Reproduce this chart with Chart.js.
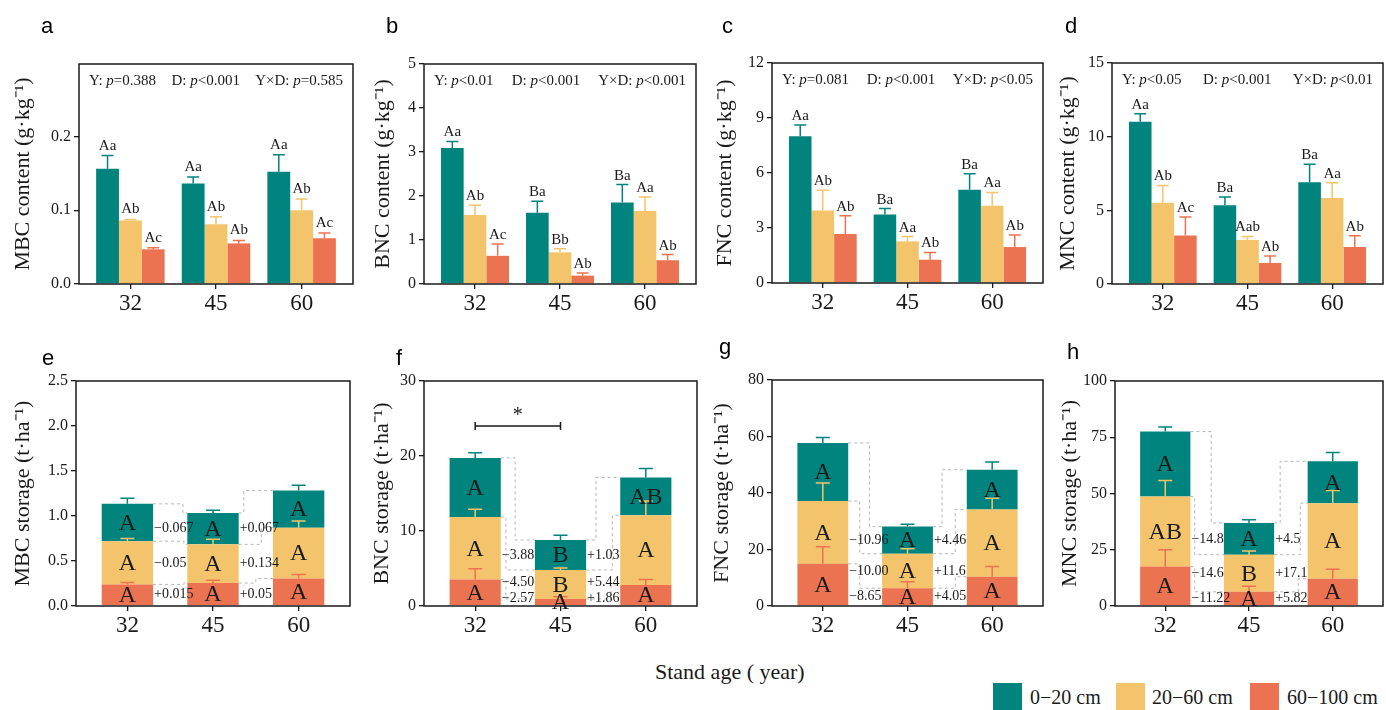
<!DOCTYPE html>
<html>
<head>
<meta charset="utf-8">
<title>Microbial necromass by stand age</title>
<script src="https://cdn.jsdelivr.net/npm/chart.js@4.4.1/dist/chart.umd.min.js"></script>
<style>
  html, body { margin: 0; padding: 0; background: #fff; overflow: hidden; }
  #page { position: relative; width: 1386px; height: 710px; }
  #page canvas { position: absolute; }
  #xTitle { position: absolute; left: 655px; top: 659px; font: 22px/26px 'Liberation Serif', 'Times New Roman', serif; color: #1a1a1a; white-space: nowrap; }
  .swatch { position: absolute; top: 683px; width: 29px; height: 29px; }
  .key { position: absolute; top: 685px; font: 20px/24px 'Liberation Serif', 'Times New Roman', serif; color: #1a1a1a; white-space: nowrap; }
</style>
</head>
<body>
<div id="page">
  <div id="xTitle">Stand age ( year)</div>
  <div class="swatch" style="left:993px;background:#00847D"></div>
  <div class="key" style="left:1030px">0−20 cm</div>
  <div class="swatch" style="left:1116px;background:#F3C46B"></div>
  <div class="key" style="left:1152px">20−60 cm</div>
  <div class="swatch" style="left:1250px;background:#EB7351"></div>
  <div class="key" style="left:1287px">60−100 cm</div>
</div>
<script>
// stand ages on the x axis
const ages = ['32', '45', '60'];
const depthNames = ['0−20 cm', '20−60 cm', '60−100 cm'];

// content per depth (rows: 0-20, 20-60, 60-100 cm), columns follow ages
const mbcContent = [[0.156, 0.136, 0.152], [0.086, 0.081, 0.100], [0.047, 0.055, 0.062]];
const mbcContentErr = [[0.018, 0.009, 0.023], [0.0015, 0.010, 0.015], [0.002, 0.004, 0.007]];
const mbcContentMarks = [['Aa', 'Aa', 'Aa'], ['Ab', 'Ab', 'Ab'], ['Ac', 'Ab', 'Ac']];
const mbcStats = ['Y: p=0.388', 'D: p<0.001', 'Y×D: p=0.585'];

const bncContent = [[3.09, 1.62, 1.85], [1.57, 0.72, 1.66], [0.64, 0.19, 0.54]];
const bncContentErr = [[0.15, 0.26, 0.41], [0.22, 0.08, 0.32], [0.27, 0.06, 0.13]];
const bncContentMarks = [['Aa', 'Ba', 'Ba'], ['Ab', 'Bb', 'Aa'], ['Ac', 'Ab', 'Ab']];
const bncStats = ['Y: p<0.01', 'D: p<0.001', 'Y×D: p<0.001'];

const fncContent = [[8.0, 3.73, 5.09], [3.96, 2.27, 4.22], [2.67, 1.27, 1.96]];
const fncContentErr = [[0.62, 0.33, 0.87], [1.1, 0.26, 0.72], [1.0, 0.4, 0.66]];
const fncContentMarks = [['Aa', 'Ba', 'Ba'], ['Ab', 'Aa', 'Aa'], ['Ab', 'Ab', 'Ab']];
const fncStats = ['Y: p=0.081', 'D: p<0.001', 'Y×D: p<0.05'];

const mncContent = [[11.02, 5.34, 6.9], [5.52, 2.99, 5.84], [3.3, 1.43, 2.51]];
const mncContentErr = [[0.54, 0.57, 1.22], [1.17, 0.24, 1.04], [1.25, 0.47, 0.77]];
const mncContentMarks = [['Aa', 'Ba', 'Ba'], ['Ab', 'Aab', 'Aa'], ['Ac', 'Ab', 'Ab']];
const mncStats = ['Y: p<0.05', 'D: p<0.001', 'Y×D: p<0.01'];

// storage per depth, stacked
const mbcStorage = [[0.415, 0.348, 0.415], [0.48, 0.43, 0.564], [0.24, 0.255, 0.305]];
const mbcStorageErr = [[0.063, 0.03, 0.057], [0.03, 0.056, 0.075], [0.02, 0.03, 0.045]];
const mbcStorageMarks = [['A', 'A', 'A'], ['A', 'A', 'A'], ['A', 'A', 'A']];
const mbcChange = [['−0.067', '+0.067'], ['−0.05', '+0.134'], ['+0.015', '+0.05']];

const bncStorage = [[7.88, 4.0, 5.03], [8.35, 3.85, 9.29], [3.52, 0.95, 2.81]];
const bncStorageErr = [[0.67, 0.63, 1.2], [1.04, 0.27, 1.9], [1.45, 0.3, 0.72]];
const bncStorageMarks = [['A', 'B', 'AB'], ['A', 'B', 'A'], ['A', 'A', 'A']];
const bncChange = [['−3.88', '+1.03'], ['−4.50', '+5.44'], ['−2.57', '+1.86']];

const fncStorage = [[20.56, 9.6, 14.06], [22.2, 12.2, 23.8], [14.95, 6.3, 10.35]];
const fncStorageErr = [[1.9, 0.8, 2.75], [6.4, 1.8, 4.0], [6.0, 2.3, 3.6]];
const fncStorageMarks = [['A', 'A', 'A'], ['A', 'A', 'A'], ['A', 'A', 'A']];
const fncChange = [['−10.96', '+4.46'], ['−10.00', '+11.6'], ['−8.65', '+4.05']];

const mncStorage = [[28.9, 14.1, 18.6], [31.1, 16.5, 33.6], [17.52, 6.3, 12.12]];
const mncStorageErr = [[2.0, 1.4, 3.95], [7.2, 1.7, 5.6], [7.5, 2.5, 4.25]];
const mncStorageMarks = [['A', 'A', 'A'], ['AB', 'B', 'A'], ['A', 'A', 'A']];
const mncChange = [['−14.8', '+4.5'], ['−14.6', '+17.1'], ['−11.22', '+5.82']];

// y tick labels
const mbcContentTicks = [0, 0.1, 0.2];
const bncContentTicks = [0, 1, 2, 3, 4, 5];
const fncContentTicks = [0, 3, 6, 9, 12];
const mncContentTicks = [0, 5, 10, 15];
const mbcStorageTicks = [0, 0.5, 1.0, 1.5, 2.0, 2.5];
const bncStorageTicks = [0, 10, 20, 30];
const fncStorageTicks = [0, 20, 40, 60, 80];
const mncStorageTicks = [0, 25, 50, 75, 100];

const depthColors = ['#00847D', '#F3C46B', '#EB7351'];
const serif = "'Liberation Serif', 'Times New Roman', serif";
const sans = "'Liberation Sans', Arial, sans-serif";
const ink = '#1a1a1a';
const AXIS_W = 80, TOP_PAD = 64, AXIS_H = 36;

const panels = [
  { letter: 'a', letterAt: [41, 33], box: [79, 64, 353, 284], titleGap: 56, markGap: 6,
    title: 'MBC content (g·kg⁻¹)', values: mbcContent, errors: mbcContentErr, marks: mbcContentMarks,
    stats: mbcStats, yMax: 0.298, yTicks: mbcContentTicks, decimals: 1 },
  { letter: 'b', letterAt: [386, 33], box: [424, 64, 696, 284], titleGap: 41, markGap: 5,
    title: 'BNC content (g·kg⁻¹)', values: bncContent, errors: bncContentErr, marks: bncContentMarks,
    stats: bncStats, yMax: 5, yTicks: bncContentTicks, decimals: 0 },
  { letter: 'c', letterAt: [722, 33], box: [772, 63, 1043, 283], titleGap: 47, markGap: 5,
    title: 'FNC content (g·kg⁻¹)', values: fncContent, errors: fncContentErr, marks: fncContentMarks,
    stats: fncStats, yMax: 12, yTicks: fncContentTicks, decimals: 0 },
  { letter: 'd', letterAt: [1065, 33], box: [1112, 63, 1383, 284], titleGap: 44, markGap: 5,
    title: 'MNC content (g·kg⁻¹)', values: mncContent, errors: mncContentErr, marks: mncContentMarks,
    stats: mncStats, yMax: 15, yTicks: mncContentTicks, decimals: 0 },
  { letter: 'e', letterAt: [42, 365], box: [76, 381, 350, 606], titleGap: 53, stacked: true,
    title: 'MBC storage (t·ha⁻¹)', values: mbcStorage, errors: mbcStorageErr, marks: mbcStorageMarks,
    changes: mbcChange, steps: [[0.87, 0.9, 0.9], [0.15, 0.66, 0.5]],
    yMax: 2.5, yTicks: mbcStorageTicks, decimals: 1 },
  { letter: 'f', letterAt: [396, 365], box: [424, 381, 697, 606], titleGap: 42, stacked: true,
    title: 'BNC storage (t·ha⁻¹)', values: bncStorage, errors: bncStorageErr, marks: bncStorageMarks,
    changes: bncChange, steps: [[0.42, 0.15, 0.15], [0.29, 0.77, 0.73]],
    bracket: { from: 0, to: 1, at: 24, text: '*' },
    yMax: 30, yTicks: bncStorageTicks, decimals: 0 },
  { letter: 'g', letterAt: [719, 354], box: [772, 380, 1043, 606], titleGap: 50, stacked: true,
    title: 'FNC storage (t·ha⁻¹)', values: fncStorage, errors: fncStorageErr, marks: fncStorageMarks,
    changes: fncChange, steps: [[0.63, 0.34, 0.34], [0.27, 0.66, 0.66]],
    yMax: 80, yTicks: fncStorageTicks, decimals: 0 },
  { letter: 'h', letterAt: [1067, 359], box: [1115, 381, 1383, 606], titleGap: 45, stacked: true,
    title: 'MNC storage (t·ha⁻¹)', values: mncStorage, errors: mncStorageErr, marks: mncStorageMarks,
    changes: mncChange, steps: [[0.62, 0.13, 0.13], [0.18, 0.78, 0.72]],
    yMax: 100, yTicks: mncStorageTicks, decimals: 0 }
];

// "Y: p=0.388" -> plain head, italic p, plain tail; three groups spread over the top row
function drawStats(ctx, area, stats) {
  const pieces = stats.map(s => {
    const cut = s.indexOf(': p');
    return [[s.slice(0, cut + 2), false], ['p', true], [s.slice(cut + 3), false]];
  });
  const fontFor = italic => (italic ? 'italic ' : '') + '15px ' + serif;
  const widthOf = parts => parts.reduce((w, [t, it]) => {
    ctx.font = fontFor(it);
    return w + ctx.measureText(t).width;
  }, 0);
  const widths = pieces.map(widthOf);
  const x0 = area.left + 10, x1 = area.right - 10;
  const gap = (x1 - x0 - widths.reduce((a, b) => a + b, 0)) / 2;
  let x = x0;
  const y = area.top + 17;
  ctx.textAlign = 'left';
  ctx.textBaseline = 'middle';
  ctx.fillStyle = ink;
  pieces.forEach(parts => {
    parts.forEach(([t, italic]) => {
      ctx.font = fontFor(italic);
      ctx.fillText(t, x, y);
      x += ctx.measureText(t).width;
    });
    x += gap;
  });
}

function decorPlugin(p, originX, originY) {
  const order = p.stacked ? [2, 1, 0] : [0, 1, 2];
  // value at the top of a bar (or of a stacked segment)
  const topOf = (d, i) => {
    if (!p.stacked) return p.values[d][i];
    let s = 0;
    for (let k = d; k <= 2; k++) s += p.values[k][i];
    return s;
  };
  return {
    id: 'decor_' + p.letter,
    afterDatasetsDraw(chart) {
      const { ctx, chartArea: area } = chart;
      const y = chart.scales.y;
      const metaOf = d => chart.getDatasetMeta(order.indexOf(d));
      ctx.save();

      // dashed step lines between neighbouring stacks
      if (p.stacked) {
        ctx.strokeStyle = '#b5b5b5';
        ctx.lineWidth = 1;
        ctx.setLineDash([3, 3]);
        for (let g = 0; g < 2; g++) {
          for (let d = 0; d < 3; d++) {
            const a = metaOf(d).data[g], b = metaOf(d).data[g + 1];
            const x0 = a.x + a.width / 2, x3 = b.x - b.width / 2;
            const xv = x0 + p.steps[g][d] * (x3 - x0);
            const y1 = y.getPixelForValue(topOf(d, g));
            const y2 = y.getPixelForValue(topOf(d, g + 1));
            ctx.beginPath();
            ctx.moveTo(x0, y1);
            ctx.lineTo(xv, y1);
            ctx.lineTo(xv, y2);
            ctx.lineTo(x3, y2);
            ctx.stroke();
          }
        }
        ctx.setLineDash([]);
      }

      // error bars, upward only
      const cap = p.stacked ? 7 : 6;
      const capTops = [[], [], []];
      ctx.lineWidth = 1.5;
      for (let d = 0; d < 3; d++) {
        ctx.strokeStyle = depthColors[d];
        metaOf(d).data.forEach((el, i) => {
          const yTop = y.getPixelForValue(topOf(d, i) + p.errors[d][i]);
          capTops[d][i] = yTop;
          ctx.beginPath();
          ctx.moveTo(el.x, el.y);
          ctx.lineTo(el.x, yTop);
          ctx.moveTo(el.x - cap, yTop);
          ctx.lineTo(el.x + cap, yTop);
          ctx.stroke();
        });
      }

      // panel frame
      ctx.strokeStyle = ink;
      ctx.lineWidth = 1.5;
      ctx.strokeRect(area.left, area.top, area.right - area.left, area.bottom - area.top);

      ctx.fillStyle = ink;
      if (!p.stacked) {
        ctx.font = '15px ' + serif;
        ctx.textAlign = 'center';
        ctx.textBaseline = 'alphabetic';
        for (let d = 0; d < 3; d++) {
          metaOf(d).data.forEach((el, i) => {
            ctx.fillText(p.marks[d][i], el.x, capTops[d][i] - p.markGap);
          });
        }
        drawStats(ctx, area, p.stats);
      } else {
        // letters inside each segment
        ctx.font = '24px ' + serif;
        ctx.textAlign = 'center';
        ctx.textBaseline = 'middle';
        for (let d = 0; d < 3; d++) {
          metaOf(d).data.forEach((el, i) => {
            ctx.fillText(p.marks[d][i], el.x, (el.y + el.base) / 2 + 1);
          });
        }
        // change labels, level with the middle stack's segments
        const mids = [0, 1, 2].map(d => {
          const el = metaOf(d).data[1];
          return (el.y + el.base) / 2;
        });
        const yRed = Math.min(mids[2], area.bottom - 8);
        const yYel = Math.min(mids[1], yRed - 16);
        const yTeal = Math.min(mids[0], yYel - 16);
        const rows = [yTeal, yYel, yRed];
        ctx.font = '14px ' + serif;
        ctx.textAlign = 'left';
        for (let g = 0; g < 2; g++) {
          const el = metaOf(0).data[g];
          const xl = el.x + el.width / 2 + 1;
          for (let d = 0; d < 3; d++) ctx.fillText(p.changes[d][g], xl, rows[d]);
        }
        if (p.bracket) {
          const bx0 = metaOf(0).data[p.bracket.from].x;
          const bx1 = metaOf(0).data[p.bracket.to].x;
          const by = y.getPixelForValue(p.bracket.at);
          ctx.strokeStyle = ink;
          ctx.lineWidth = 1.5;
          ctx.beginPath();
          ctx.moveTo(bx0, by); ctx.lineTo(bx1, by);
          ctx.moveTo(bx0, by - 4); ctx.lineTo(bx0, by + 4);
          ctx.moveTo(bx1, by - 4); ctx.lineTo(bx1, by + 4);
          ctx.stroke();
          ctx.font = '20px ' + serif;
          ctx.textAlign = 'center';
          ctx.textBaseline = 'middle';
          ctx.fillText(p.bracket.text, (bx0 + bx1) / 2, by - 10);
        }
      }

      // panel letter
      ctx.font = '22px ' + sans;
      ctx.fillStyle = '#000';
      ctx.textAlign = 'left';
      ctx.textBaseline = 'alphabetic';
      ctx.fillText(p.letter, p.letterAt[0] - originX, p.letterAt[1] - originY);
      ctx.restore();
    }
  };
}

function buildPanel(p) {
  const [left, top, right, bottom] = p.box;
  const originX = left - AXIS_W, originY = top - TOP_PAD;
  const w = AXIS_W + (right - left) + 3;
  const h = TOP_PAD + (bottom - top) + AXIS_H;
  const canvas = document.createElement('canvas');
  canvas.width = w;
  canvas.height = h;
  canvas.style.left = originX + 'px';
  canvas.style.top = originY + 'px';
  canvas.style.width = w + 'px';
  canvas.style.height = h + 'px';
  document.getElementById('page').appendChild(canvas);

  const order = p.stacked ? [2, 1, 0] : [0, 1, 2];
  const datasets = order.map(d => ({
    label: depthNames[d],
    data: p.values[d].map((v, i) => ({ x: i, y: v })),
    backgroundColor: depthColors[d],
    borderWidth: 0,
    categoryPercentage: p.stacked ? 0.6 : 0.8,
    barPercentage: 1
  }));

  return new Chart(canvas, {
    type: 'bar',
    data: { datasets },
    options: {
      responsive: false,
      animation: false,
      devicePixelRatio: 1,
      layout: { autoPadding: false, padding: { left: 0, top: TOP_PAD, right: 3, bottom: 0 } },
      plugins: { legend: { display: false }, tooltip: { enabled: false } },
      scales: {
        x: {
          type: 'linear',
          min: -0.6,
          max: 2.6,
          bounds: 'data',
          offset: false,
          stacked: !!p.stacked,
          afterBuildTicks: axis => { axis.ticks = ages.map((_, i) => ({ value: i })); },
          afterFit: axis => { axis.height = AXIS_H; },
          grid: { offset: false, drawOnChartArea: false, drawTicks: true, tickLength: 5, color: ink, lineWidth: 1.3 },
          border: { display: false },
          ticks: {
            callback: v => ages[v],
            autoSkip: false,
            maxRotation: 0,
            padding: 1,
            color: ink,
            font: { family: serif, size: 23 }
          }
        },
        y: {
          min: 0,
          max: p.yMax,
          bounds: 'data',
          stacked: !!p.stacked,
          afterBuildTicks: axis => { axis.ticks = p.yTicks.map(v => ({ value: v })); },
          afterFit: axis => { axis.width = AXIS_W; },
          grid: { drawOnChartArea: false, drawTicks: true, tickLength: 5, color: ink, lineWidth: 1.3 },
          border: { display: false },
          ticks: {
            callback: v => Number(v).toFixed(p.decimals),
            padding: 3,
            color: ink,
            font: { family: serif, size: 16 }
          },
          title: {
            display: true,
            text: p.title,
            color: ink,
            font: { family: serif, size: 22 },
            padding: { top: AXIS_W - p.titleGap - 13.2, bottom: 0 }
          }
        }
      }
    },
    plugins: [decorPlugin(p, originX, originY)]
  });
}

panels.forEach(buildPanel);
</script>
</body>
</html>
